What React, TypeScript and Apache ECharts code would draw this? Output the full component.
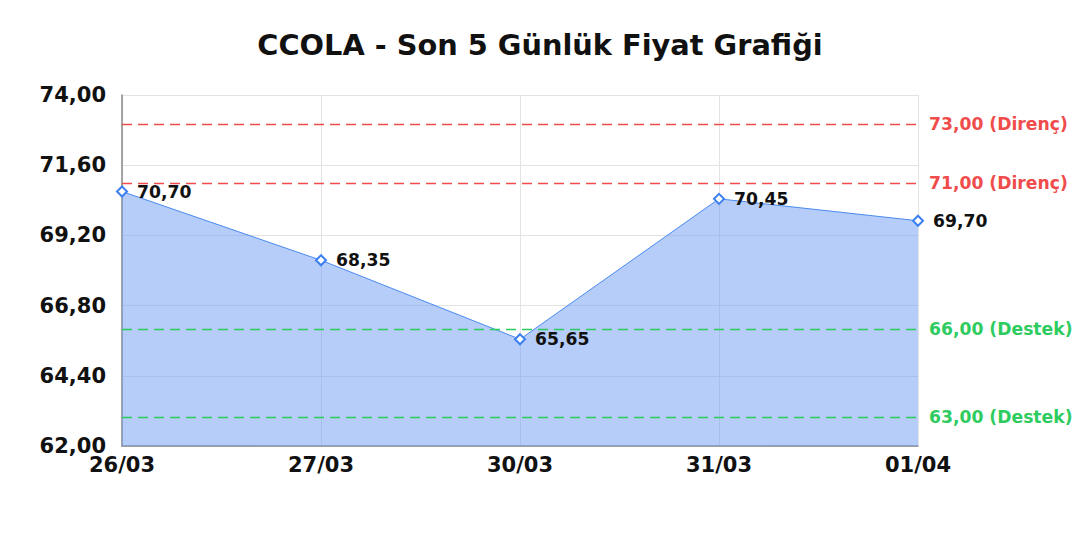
import React, { useEffect, useRef } from "react";
import * as echarts from "echarts";

const categories = ["26/03", "27/03", "30/03", "31/03", "01/04"];
const prices = [70.7, 68.35, 65.65, 70.45, 69.7];
const resistance = [73, 71];
const support = [66, 63];
const yMin = 62;
const yMax = 74;
const yStep = 2.4;

const fmt = (v: number) => v.toFixed(2).replace(".", ",");

export default function App() {
  const ref = useRef<HTMLDivElement>(null);
  useEffect(() => {
    if (!ref.current) return;
    const chart = echarts.init(ref.current, null, { renderer: "svg" });
    const font = "DejaVu Sans";
    const levelSeries = (name: string, values: number[], color: string, word: string) => ({
      name,
      type: "line",
      yAxisIndex: 0,
      data: [],
      z: 6,
      markLine: {
        silent: true,
        symbol: "none",
        lineStyle: { color, type: [10, 6], width: 1.3 },
        label: {
          position: "end",
          distance: 11,
          fontFamily: font,
          fontWeight: "bold",
          fontSize: 17.2,
          color,
          formatter: (p: any) => `${fmt(p.value)} (${word})`,
        },
        data: values.map((v) => ({ yAxis: v })),
      },
    });
    chart.setOption({
      animation: false,
      title: {
        text: "CCOLA - Son 5 Günlük Fiyat Grafiği",
        left: "center",
        top: 25,
        textStyle: { fontFamily: font, fontWeight: "bold", fontSize: 28.8, color: "#111" },
      },
      grid: { left: 122, right: 162, top: 95, bottom: 94 },
      xAxis: {
        type: "category",
        data: categories,
        boundaryGap: false,
        axisLine: { lineStyle: { color: "#888", width: 1.5 } },
        axisTick: { show: false },
        axisLabel: { fontFamily: font, fontWeight: "bold", fontSize: 21, color: "#111", margin: 8 },
        splitLine: { show: true, lineStyle: { color: "#e3e3e3" } },
      },
      yAxis: [
        {
          type: "value",
          min: yMin,
          max: yMax,
          axisLabel: { show: false },
          axisLine: { show: false },
          axisTick: { show: false },
          splitLine: { show: false },
        },
        {
          type: "value",
          position: "left",
          min: 0,
          max: yMax - yMin,
          interval: yStep,
          axisLine: { show: true, lineStyle: { color: "#888", width: 1.5 } },
          axisTick: { show: false },
          axisLabel: {
            fontFamily: font,
            fontWeight: "bold",
            fontSize: 21,
            color: "#111",
            margin: 16,
            formatter: (v: number) => fmt(v + yMin),
          },
          splitLine: { show: true, lineStyle: { color: "#e3e3e3" } },
        },
      ],
      series: [
        {
          type: "line",
          yAxisIndex: 0,
          data: prices,
          symbol: "diamond",
          symbolSize: 10,
          itemStyle: { color: "#fff", borderColor: "#3b7ff0", borderWidth: 2 },
          lineStyle: { color: "#4a8af0", width: 1 },
          areaStyle: { color: "rgba(107,155,241,0.5)", opacity: 1 },
          label: {
            show: true,
            position: "right",
            distance: 9,
            fontFamily: font,
            fontWeight: "bold",
            fontSize: 17.2,
            color: "#111",
            formatter: (p: any) => fmt(p.value),
          },
          z: 3,
        },
        levelSeries("resistance", resistance, "#f04c4c", "Direnç"),
        levelSeries("support", support, "#2ecc5e", "Destek"),
      ],
    });
    return () => chart.dispose();
  }, []);
  return (
    <div
      ref={ref}
      style={{ position: "fixed", left: 0, top: 0, width: 1080, height: 540, background: "#fff" }}
    />
  );
}
